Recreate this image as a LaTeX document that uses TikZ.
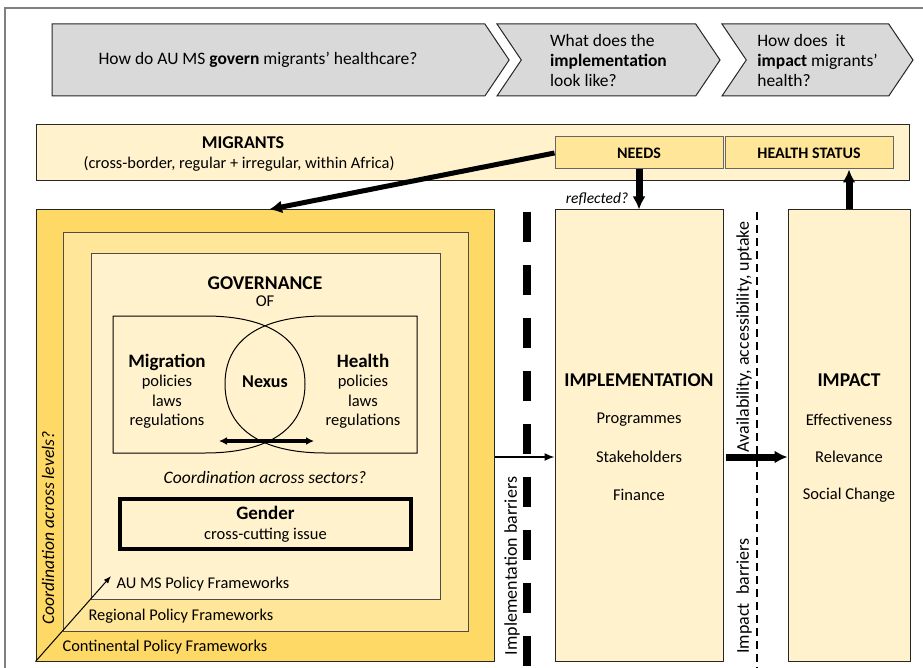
\documentclass[tikz,border=0pt]{standalone}
\usepackage{fontspec}
\setmainfont{Carlito}
\usetikzlibrary{positioning,shapes.symbols,arrows.meta,calc}
\definecolor{goldout}{HTML}{FFD966}
\definecolor{goldmid}{HTML}{FFE699}
\definecolor{goldin}{HTML}{FFF2CC}
\definecolor{chevgray}{HTML}{D9D9D9}

\begin{document}
\begin{tikzpicture}[
x=1pt,y=-1pt,
every node/.style={
  font=\fontsize{16.5}{19.5}\selectfont
  },
chev/.style={
  signal,
  signal to=east,
  signal from=west,
  signal pointer angle=112,
  draw=black!85,
  fill=chevgray,
  line width=1pt,
  minimum height=72,
  inner sep=0pt,
  align=left,
  font=\fontsize{17.5}{20}\selectfont
  },
layer/.style={
  draw=black!85,
  line width=1pt,
  inner sep=0pt
  },
heading/.style={
  font=\fontsize{19.5}{22}\selectfont\bfseries
  },
smalltext/.style={
  font=\fontsize{16.4}{19}\selectfont
  },
sidetext/.style={
  rotate=90,
  font=\fontsize{18}{21}\selectfont
  },
fat/.style={
  line width=5pt,
  -{Latex[length=13pt,width=13pt]}
  },
>=Latex
]
\useasboundingbox (0,0) rectangle (923,668);
\draw[black!50, line width=1.5pt] (923,8) -- (5,8) -- (5,668);

% questions
\node[chev, minimum width=457, signal from=nowhere] (qgov) at (268.5,60) {};
\node[font=\fontsize{17.5}{20}\selectfont] (qgovtext) at (258,60) {How do AU MS \textbf{govern} migrants' healthcare?};
\node[chev, minimum width=223] (qimpl) at (608.5,60) {What does the\\\textbf{implementation}\\look like?};
\node[chev, minimum width=191] (qimp) at (817.5,60) {How does\ \ it\\\textbf{impact} migrants'\\health?};

% migrants
\node[layer, fill=goldin, minimum width=873, minimum height=56] (mig) at (472.5,153) {};
\node[font=\fontsize{18}{21}\selectfont\bfseries] (migtitle) at (243,143) {MIGRANTS};
\node[smalltext] (migsub) at (239,164) {(cross-border, regular + irregular, within Africa)};
\node[layer, draw=black!60, fill=goldmid, minimum width=168, minimum height=32, font=\fontsize{16}{18}\selectfont\bfseries] (needs) at (639,153) {NEEDS};
\node[layer, draw=black!60, fill=goldmid, minimum width=168, minimum height=32, font=\fontsize{16}{18}\selectfont\bfseries] (status) at (809,153) {HEALTH STATUS};

% policy levels
\node[layer, fill=goldout, minimum width=458, minimum height=451] (cont) at (265,435.5) {};
\node[layer, draw=black!70, fill=goldmid, minimum width=405, minimum height=398] (reg) at (265.5,432) {};
\node[layer, draw=black!70, fill=goldin, minimum width=349, minimum height=345] (ms) at (265.5,426.5) {};
\node[smalltext, anchor=west] (mslabel) at (113,584) {AU MS Policy Frameworks};
\node[smalltext, anchor=west] (reglabel) at (85,616) {Regional Policy Frameworks};
\node[smalltext, anchor=west] (contlabel) at (59,647) {Continental Policy Frameworks};
\node[font=\fontsize{17.6}{20}\selectfont\itshape, rotate=90] (levels) at (48,528) {Coordination across levels?};
\coordinate (levtip) at (111,576);
\draw[->, line width=1pt] (cont.south west) -- (levtip);

% governance
\node[heading] (gov) at (265,283) {GOVERNANCE};
\node[below=-1pt of gov] (of) {OF};
\draw[line width=1pt] (113,316) -- (205,316) .. controls (270,316) and (305,340) .. (305,384)
  .. controls (305,428) and (270,453) .. (205,453) -- (113,453) -- cycle;
\draw[line width=1pt] (417,316) -- (325,316) .. controls (260,316) and (225,340) .. (225,384)
  .. controls (225,428) and (260,453) .. (325,453) -- (417,453) -- cycle;
\node[align=center] (migr) at (167,391) {{\fontsize{19}{19.5}\selectfont\bfseries Migration}\\policies\\laws\\regulations};
\node[align=center] (hlth) at (363,391) {{\fontsize{19}{19.5}\selectfont\bfseries Health}\\policies\\laws\\regulations};
\node[font=\fontsize{18}{20}\selectfont\bfseries] (nexus) at (265,382) {Nexus};
\coordinate (secl) at (219,441);
\coordinate (secr) at (314,441);
\draw[line width=3.5pt, {Latex[length=8pt,width=8pt]}-{Latex[length=8pt,width=8pt]}] (secl) -- (secr);
\node[font=\fontsize{17.5}{20}\selectfont\itshape] (sectors) at (265,477) {Coordination across sectors?};
\node[draw, line width=4pt, minimum width=291, minimum height=50, align=center] (gender) at (265.5,524)
  {{\fontsize{19}{21}\selectfont\bfseries Gender}\\cross-cutting issue};

% implementation and impact
\node[layer, fill=goldin, minimum width=168, minimum height=451] (impl) at (639,435.5) {};
\node[layer, fill=goldin, minimum width=122, minimum height=451] (impact) at (849,435.5) {};
\node[heading] (impltitle) at (639,380) {IMPLEMENTATION};
\node (prog) at (639,420) {Programmes};
\node (stake) at (639,457) {Stakeholders};
\node (fin) at (639,495) {Finance};
\node[heading] (imptitle) at (849,380) {IMPACT};
\node (eff) at (849,420) {Effectiveness};
\node (rel) at (849,457) {Relevance};
\node (soc) at (849,495) {Social Change};

% barriers
\coordinate (ibtop) at (527,212);
\coordinate (ibbot) at (527,668);
\draw[line width=8pt, dash pattern=on 30pt off 23pt] (ibtop) -- (ibbot);
\node[sidetext] (implbar) at (512,566) {Implementation barriers};
\coordinate (pbtop) at (757,212);
\coordinate (pbbot) at (757,668);
\draw[line width=2pt, dash pattern=on 8pt off 5pt] (pbtop) -- (pbbot);
\node[sidetext] (avail) at (744,337) {Availability, accessibility, uptake};
\node[sidetext] (impbar) at (744,596) {Impact\ \ barriers};

% connectors
\draw[fat] (needs.west) -- ([xshift=4pt]cont.north);
\draw[fat, line width=7pt] (needs.south) -- (impl.north);
\node[font=\fontsize{15.5}{18}\selectfont\itshape] (refl) at (597,199) {reflected?};
\draw[fat, line width=7pt] (impact.north) -- (impact.north |- status.south);
\draw[->, line width=1.5pt, >={Latex[length=10pt,width=8pt]}] (stake -| cont.east) -- (stake -| impl.west);
\draw[fat, line width=7pt] ([xshift=2pt]stake -| impl.east) -- (stake -| impact.west);
\end{tikzpicture}
\end{document}
